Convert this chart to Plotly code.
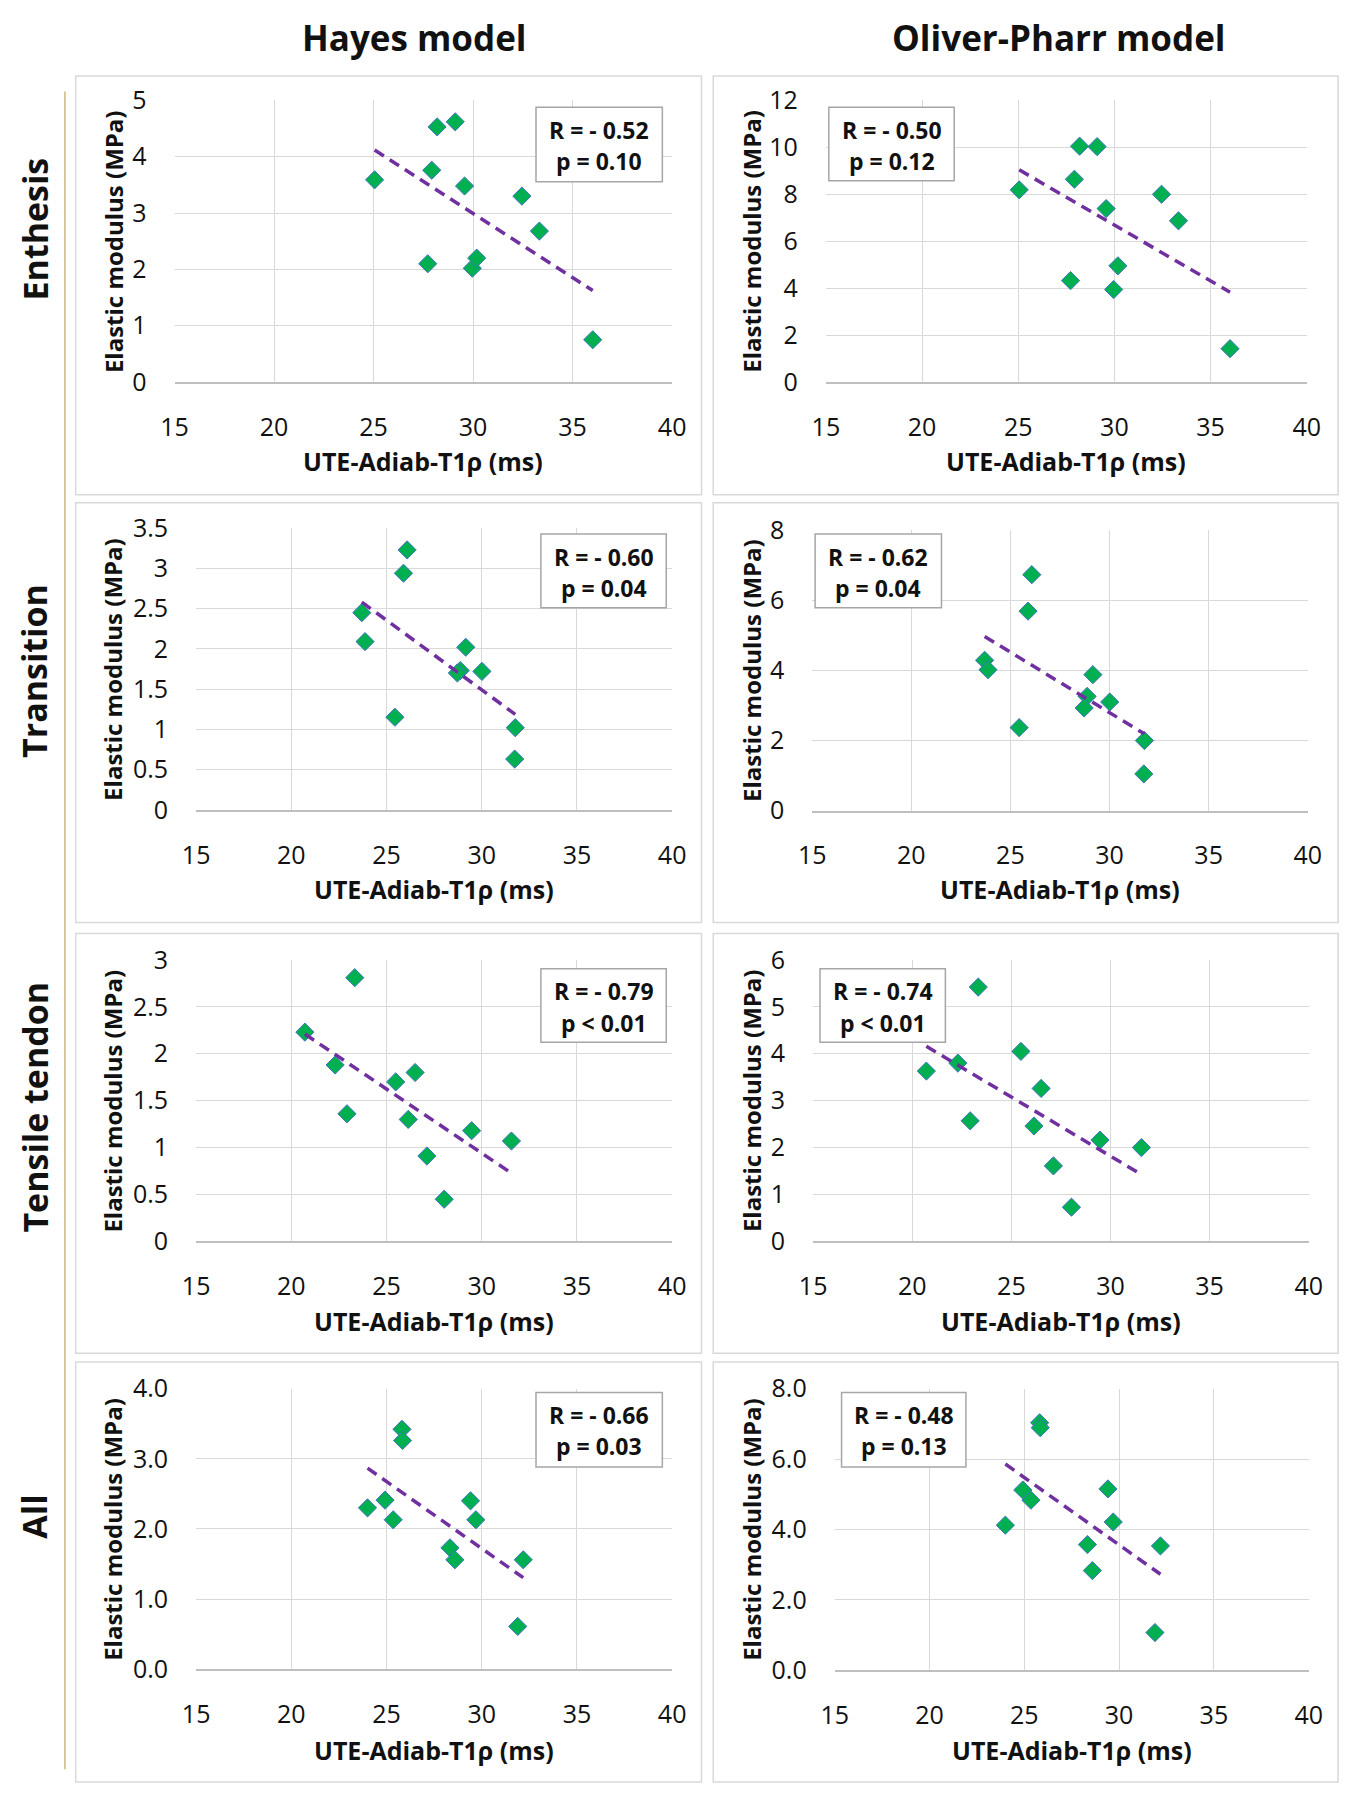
import numpy as np
import plotly.graph_objects as go

W, H = 1357, 1800

# ---------------- data ----------------
col_titles = ["Hayes model", "Oliver-Pharr model"]
row_titles = ["Enthesis", "Transition", "Tensile tendon", "All"]

ent_x = [25.05, 28.19, 29.10, 27.92, 29.57, 32.45, 33.33, 27.72, 29.96, 30.18, 36.01]
ent_hayes = [3.59, 4.53, 4.62, 3.76, 3.48, 3.30, 2.68, 2.10, 2.02, 2.20, 0.75]
ent_op = [8.19, 10.05, 10.03, 8.64, 7.39, 8.00, 6.87, 4.32, 3.94, 4.95, 1.42]

tra_x = [26.08, 25.89, 23.70, 23.87, 29.16, 28.87, 28.72, 30.01, 25.44, 31.76, 31.73]
tra_hayes = [3.23, 2.94, 2.45, 2.09, 2.02, 1.73, 1.70, 1.72, 1.15, 1.02, 0.63]
tra_op = [6.73, 5.69, 4.29, 4.02, 3.88, 3.26, 2.93, 3.10, 2.37, 2.00, 1.05]

ten_x = [20.71, 23.33, 22.30, 22.92, 25.48, 26.50, 26.14, 27.12, 28.03, 29.47, 31.56]
ten_hayes = [2.23, 2.81, 1.88, 1.36, 1.70, 1.80, 1.30, 0.91, 0.45, 1.18, 1.07]
ten_op = [3.63, 5.42, 3.80, 2.57, 4.05, 3.26, 2.46, 1.61, 0.73, 2.16, 2.00]

all_x = [25.81, 25.84, 24.00, 24.92, 25.35, 29.41, 29.69, 28.33, 28.59, 32.18, 31.89]
all_hayes = [3.42, 3.26, 2.30, 2.41, 2.13, 2.40, 2.13, 1.73, 1.56, 1.56, 0.61]
all_op = [7.03, 6.89, 4.12, 5.12, 4.83, 5.15, 4.21, 3.57, 2.83, 3.53, 1.07]

r_labels = ["R = - 0.52", "R = - 0.50", "R = - 0.60", "R = - 0.62",
            "R = - 0.79", "R = - 0.74", "R = - 0.66", "R = - 0.48"]
p_labels = ["p = 0.10", "p = 0.12", "p = 0.04", "p = 0.04",
            "p < 0.01", "p < 0.01", "p = 0.03", "p = 0.13"]

x_range = [15, 40]
x_dtick = 5
y_max = [5, 12, 3.5, 8, 3, 6, 4, 8]
y_dtick = [1, 2, 0.5, 2, 0.5, 1, 1, 2]
y_fmt = ["", "", "", "", "", "", ".1f", ".1f"]

x_title = "UTE-Adiab-T1ρ (ms)"
y_title = "Elastic modulus (MPa)"

series_x = [ent_x, ent_x, tra_x, tra_x, ten_x, ten_x, all_x, all_x]
series_y = [ent_hayes, ent_op, tra_hayes, tra_op, ten_hayes, ten_op, all_hayes, all_op]

# ---------------- layout geometry (pixels) ----------------
plot_px = [  # x0, x1, y0(top), y1(bottom)
    (164, 672, 84, 371), (829, 1320, 84, 371),
    (186, 672, 520, 807), (815, 1321, 522, 808),
    (186, 672, 960, 1247), (816, 1322, 960, 1247),
    (186, 672, 1397, 1683), (838, 1322, 1397, 1684),
]
box_px = [
    (533, 662, 91, 167), (832, 960, 91, 166),
    (538, 666, 526, 601), (818, 947, 526, 601),
    (538, 666, 969, 1044), (823, 951, 969, 1044),
    (533, 662, 1401, 1477), (845, 972, 1401, 1477),
]
panel_px_x = [(63, 702), (714, 1352)]
panel_px_y = [(59, 486), (494, 922), (933, 1361), (1370, 1798)]
ytitle_x = [101, 753]
xtitle_y = [452, 452, 888, 888, 1328, 1328, 1765, 1765]
row_label_y = [215, 666, 1110, 1528]
col_title_x = [409, 1067]

FONT = "Open Sans"
GREEN = "#00b050"
EDGE = "#4472c4"
PURPLE = "#7030a0"
GRID = "#d9d9d9"
TXT = "#111111"


def px(x):
    return x / W


def py(y):
    return 1 - y / H


fig = go.Figure()
shapes = []
annotations = []

for i in range(8):
    ax = "" if i == 0 else str(i + 1)
    x0, x1, y0, y1 = plot_px[i]
    xs = np.array(series_x[i], dtype=float)
    ys = np.array(series_y[i], dtype=float)

    fig.add_trace(go.Scatter(
        x=xs, y=ys, mode="markers",
        marker=dict(symbol="diamond", size=14, color=GREEN,
                    line=dict(color=EDGE, width=1)),
        xaxis="x" + ax, yaxis="y" + ax, showlegend=False, hoverinfo="x+y"))

    slope, icpt = np.polyfit(xs, ys, 1)
    lx = np.array([xs.min(), xs.max()])
    fig.add_trace(go.Scatter(
        x=lx, y=slope * lx + icpt, mode="lines",
        line=dict(color=PURPLE, width=3.5, dash="11px,7px"),
        xaxis="x" + ax, yaxis="y" + ax, showlegend=False, hoverinfo="skip"))

    fig.update_layout(**{
        "xaxis" + ax: dict(
            domain=[px(x0), px(x1)], anchor="y" + ax, range=x_range,
            dtick=x_dtick, tick0=15, showgrid=True, gridcolor=GRID, gridwidth=1,
            zeroline=False, showline=True, linecolor="#bfbfbf", linewidth=1.5,
            ticks="outside", ticklen=22, tickcolor="rgba(0,0,0,0)",
            tickfont=dict(family=FONT, size=25, color=TXT),
        ),
        "yaxis" + ax: dict(
            domain=[py(y1), py(y0)], anchor="x" + ax, range=[0, y_max[i]],
            dtick=y_dtick[i], tick0=0, tickformat=y_fmt[i],
            showgrid=True, gridcolor=GRID, gridwidth=1,
            zeroline=False, showline=False,
            ticks="outside", ticklen=22, tickcolor="rgba(0,0,0,0)",
            tickfont=dict(family=FONT, size=25, color=TXT),
        ),
    })

    # axis titles
    annotations.append(dict(
        x=px((x0 + x1) / 2), y=py(xtitle_y[i]), xref="paper", yref="paper",
        text="<b>" + x_title + "</b>", showarrow=False,
        xanchor="center", yanchor="middle",
        font=dict(family=FONT, size=25, color=TXT)))
    annotations.append(dict(
        x=px(ytitle_x[i % 2]), y=py((y0 + y1) / 2), xref="paper", yref="paper",
        text="<b>" + y_title + "</b>", showarrow=False, textangle=-90,
        xanchor="center", yanchor="middle",
        font=dict(family=FONT, size=24, color=TXT)))

    # stat box
    bx0, bx1, by0, by1 = box_px[i]
    shapes.append(dict(
        type="rect", xref="paper", yref="paper",
        x0=px(bx0), x1=px(bx1), y0=py(by1), y1=py(by0),
        line=dict(color="#a6a6a6", width=1.5), fillcolor="white", layer="above"))
    cx = (bx0 + bx1) / 2
    annotations.append(dict(
        x=px(cx), y=py(by0 + 23), xref="paper", yref="paper",
        text="<b>" + r_labels[i] + "</b>", showarrow=False,
        xanchor="center", yanchor="middle",
        font=dict(family=FONT, size=23, color=TXT)))
    annotations.append(dict(
        x=px(cx), y=py(by0 + 55), xref="paper", yref="paper",
        text="<b>" + p_labels[i] + "</b>", showarrow=False,
        xanchor="center", yanchor="middle",
        font=dict(family=FONT, size=23, color=TXT)))

# panel outlines
for r in range(4):
    for c in range(2):
        shapes.append(dict(
            type="rect", xref="paper", yref="paper",
            x0=px(panel_px_x[c][0]), x1=px(panel_px_x[c][1]),
            y0=py(panel_px_y[r][1]), y1=py(panel_px_y[r][0]),
            line=dict(color=GRID, width=1.5), fillcolor="rgba(0,0,0,0)", layer="below"))

# gold separator line
shapes.append(dict(
    type="line", xref="paper", yref="paper",
    x0=px(52), x1=px(52), y0=py(75), y1=py(1785),
    line=dict(color="#cdb97a", width=1.5)))

# column titles
for c in range(2):
    annotations.append(dict(
        x=px(col_title_x[c]), y=py(20), xref="paper", yref="paper",
        text="<b>" + col_titles[c] + "</b>", showarrow=False,
        xanchor="center", yanchor="middle",
        font=dict(family=FONT, size=35, color=TXT)))

# row titles
for r in range(4):
    annotations.append(dict(
        x=px(21), y=py(row_label_y[r]), xref="paper", yref="paper",
        text="<b>" + row_titles[r] + "</b>", showarrow=False, textangle=-90,
        xanchor="center", yanchor="middle",
        font=dict(family=FONT, size=34, color=TXT)))

fig.update_layout(
    width=W, height=H,
    margin=dict(l=0, r=0, t=0, b=0),
    paper_bgcolor="white", plot_bgcolor="white",
    shapes=shapes, annotations=annotations,
    font=dict(family=FONT),
)

fig.write_html(
    "out.html",
    config={"displayModeBar": False},
    post_script=(
        "document.documentElement.style.margin='0px';"
        "document.body.style.margin='0px';document.body.style.padding='0px';"
        "var d=document.getElementById('{plot_id}');"
        "d.style.position='fixed';d.style.top='0px';d.style.left='0px';"
    ),
)
